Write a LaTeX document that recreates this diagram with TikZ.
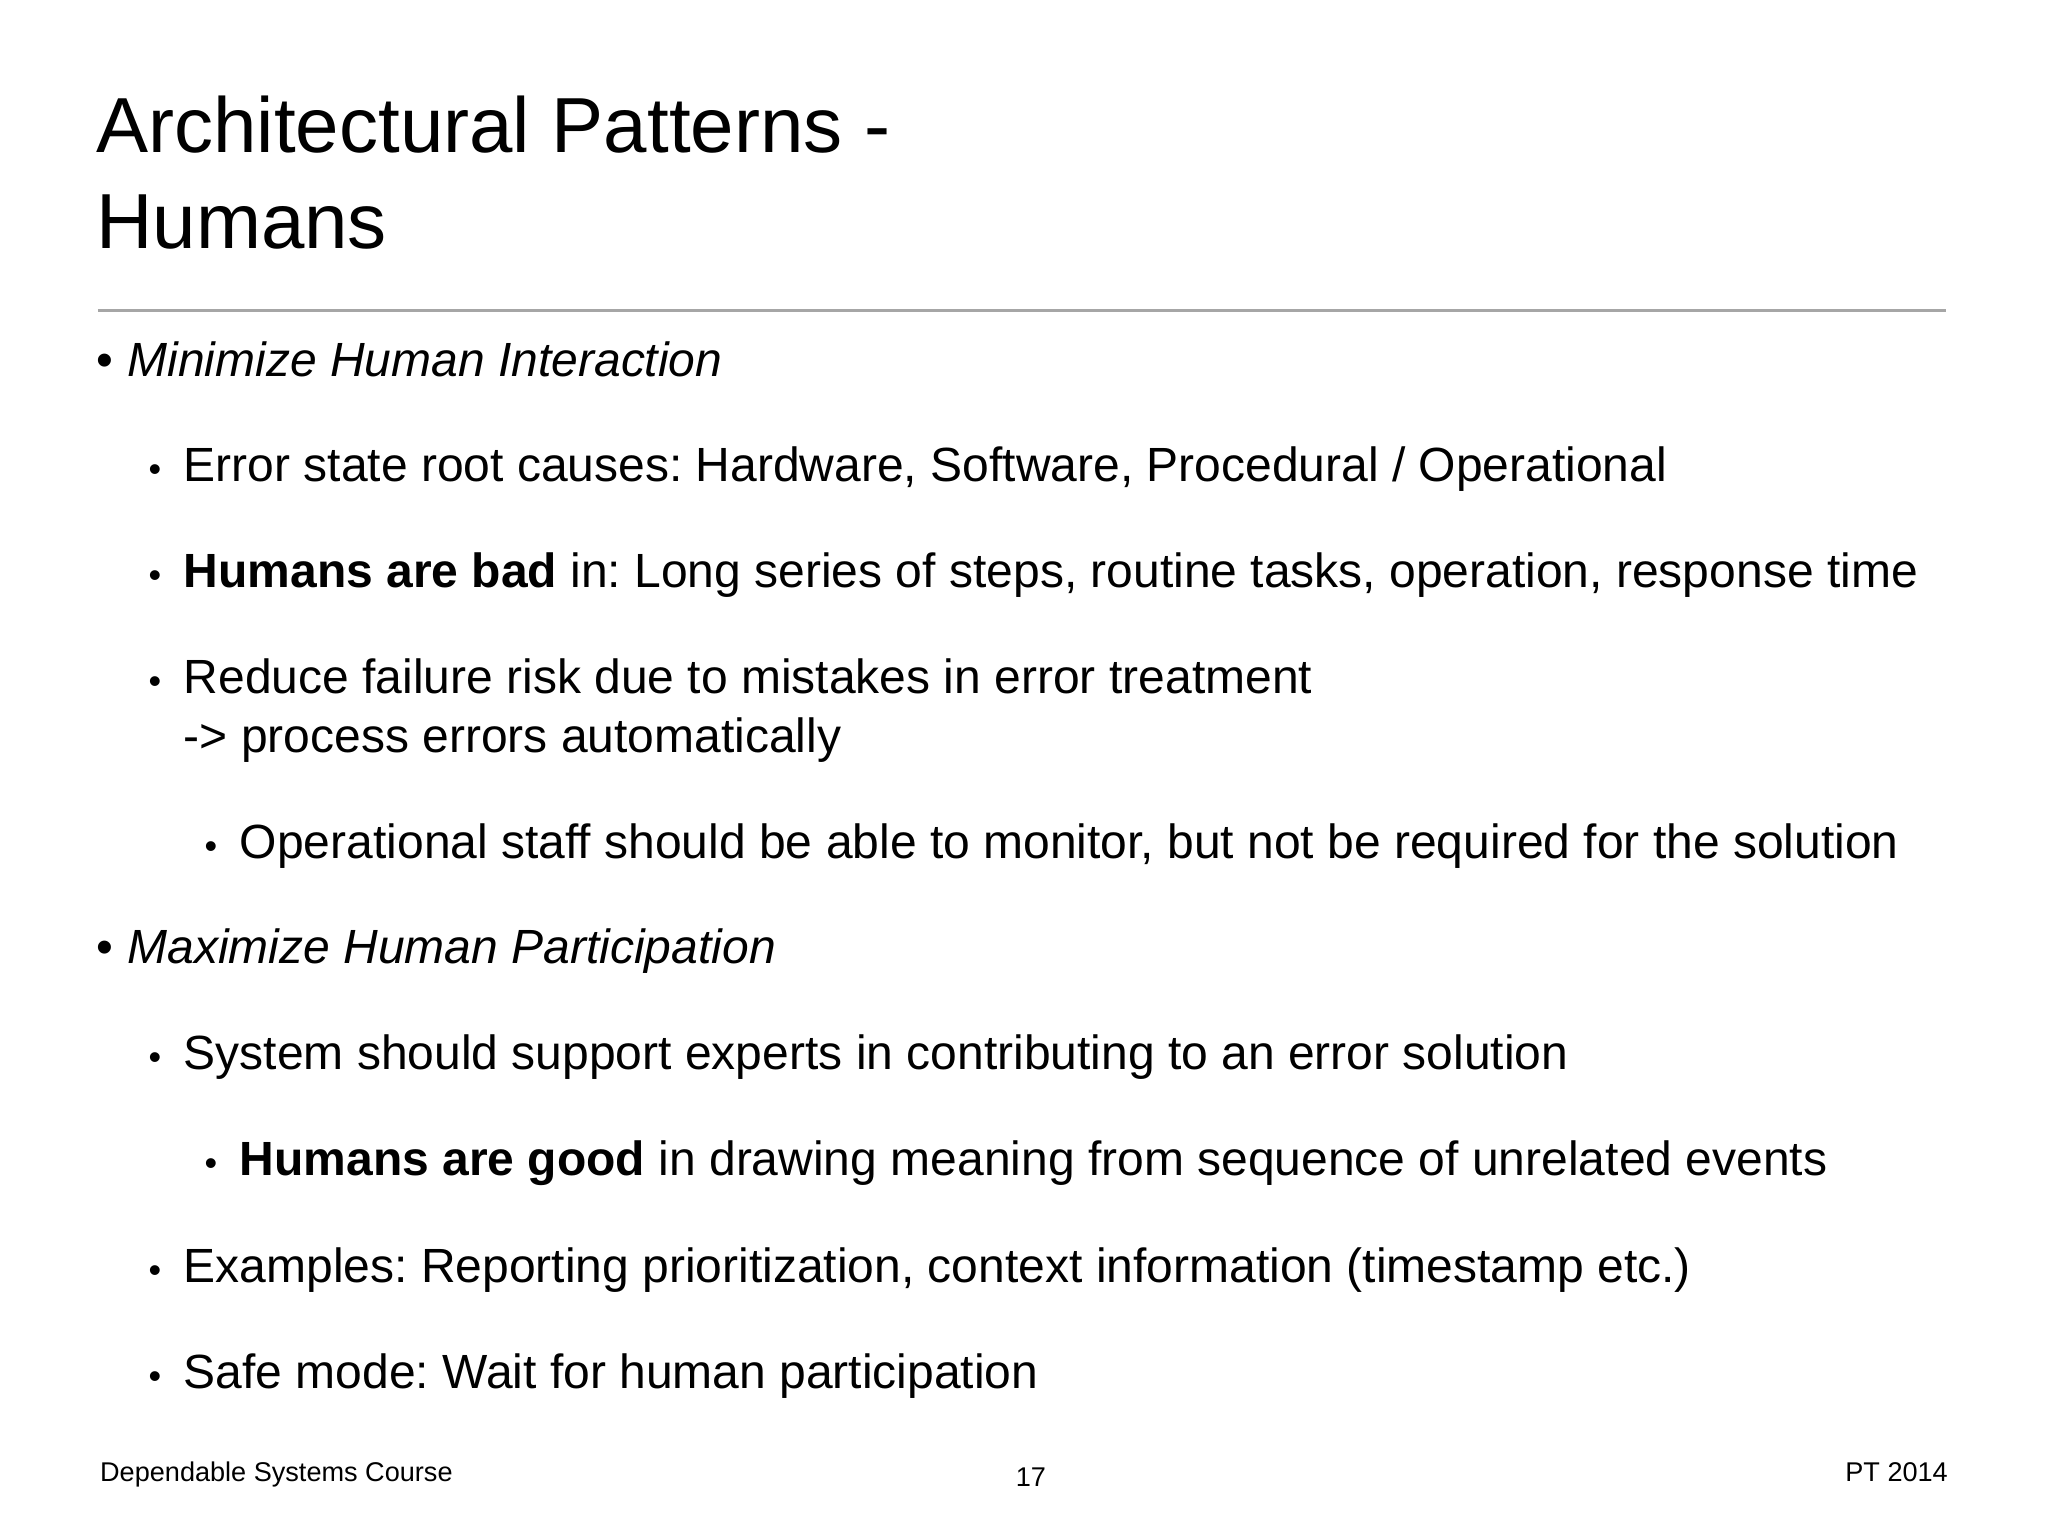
\documentclass[tikz,border=0pt]{standalone}
\usepackage{fontspec}
\setmainfont{Liberation Sans}
\newcommand{\sbul}{\makebox[0.27cm][l]{\scalebox{0.75}{\textbullet}}}
\newcommand{\bbul}{\makebox[0.24cm][l]{\textbullet}}
\begin{document}
\frenchspacing
\begin{tikzpicture}[x=0.01cm,y=-0.01cm,
  title/.style={anchor=base west,inner sep=0,font=\fontsize{17pt}{20pt}\selectfont},
  body/.style={anchor=base west,inner sep=0,font=\fontsize{10.45pt}{12pt}\selectfont},
  foot/.style={anchor=base west,inner sep=0,font=\fontsize{5.9pt}{7pt}\selectfont}]
\useasboundingbox[fill=white] (0,0) rectangle (1568,1176);
\node[title] (t1) at (73,117) {Architectural Patterns -};
\node[title] (t2) at (73,190) {Humans};
\draw[gray!70,line width=0.6pt] (75,238) -- (1490,238);
\node[body] (b1) at (73,288) {\bbul\textit{Minimize Human Interaction}};
\node[body] (b2) at (113,369) {\sbul Error state root causes: Hardware, Software, Procedural / Operational};
\node[body] (b3) at (113,450) {\sbul\textbf{Humans are bad} in: Long series of steps, routine tasks, operation, response time};
\node[body] (b4) at (113,531) {\sbul Reduce failure risk due to mistakes in error treatment};
\node[body] (b4b) at (140,576) {-> process errors automatically};
\node[body] (b5) at (156,657) {\sbul Operational staff should be able to monitor, but not be required for the solution};
\node[body] (b6) at (73,738) {\bbul\textit{Maximize Human Participation}};
\node[body] (b7) at (113,819) {\sbul System should support experts in contributing to an error solution};
\node[body] (b8) at (156,900) {\sbul\textbf{Humans are good} in drawing meaning from sequence of unrelated events};
\node[body] (b9) at (113,982) {\sbul Examples: Reporting prioritization, context information (timestamp etc.)};
\node[body] (b10) at (113,1063) {\sbul Safe mode: Wait for human participation};
\node[foot] (f1) at (76,1134) {Dependable Systems Course};
\node[foot] (f2) at (777,1138) {17};
\node[foot,anchor=base east] (f3) at (1492,1134) {PT 2014};
\end{tikzpicture}
\end{document}
